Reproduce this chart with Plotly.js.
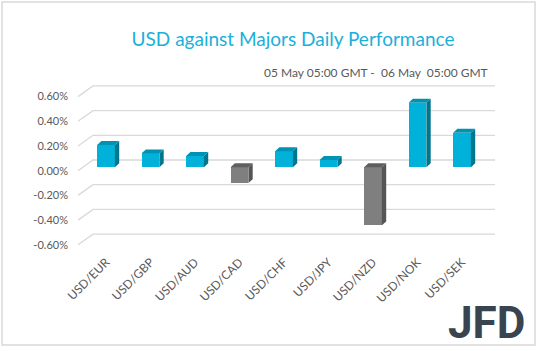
<!DOCTYPE html>
<html>
<head>
<meta charset="utf-8">
<script src="https://cdn.plot.ly/plotly-3.0.1.min.js"></script>
<style>html,body{margin:0;padding:0;background:#fff;}#chart{width:538px;height:351px;}</style>
</head>
<body>
<div id="chart"></div>
<script>
const categories = ['USD/EUR','USD/GBP','USD/AUD','USD/CAD','USD/CHF','USD/JPY','USD/NZD','USD/NOK','USD/SEK'];
const values = [0.18, 0.113, 0.091, -0.128, 0.13, 0.059, -0.47, 0.523, 0.28];
const yTicks = [-0.6, -0.4, -0.2, 0, 0.2, 0.4, 0.6];
const yTickLabels = ['-0.60%', '-0.40%', '-0.20%', '0.00%', '0.20%', '0.40%', '0.60%'];
const titleText = 'USD against Majors Daily Performance';
const subtitleText = '05 May 05:00 GMT -  06 May  05:00 GMT';

// pseudo-3D geometry (in axis units)
const barW = 0.40, depthX = 0.097, depthY = 0.032;
const frontOff = -0.0275, backOff = 0.059;
const xFront = -0.629, xBack = -0.292, xEnd = 8.742;

const pos = {front: '#00B2DA', top: '#0092B2', side: '#00758E'};
const neg = {front: '#7F7F7F', top: '#5E5E5E', side: '#555555'};

const idx = categories.map((c, i) => i);
const traces = [];

// front faces
traces.push({
  type: 'bar', x: idx, y: values, width: barW,
  marker: {color: values.map(v => v >= 0 ? pos.front : neg.front), line: {width: 0}},
  showlegend: false, hoverinfo: 'x+y'
});

// top and side faces
values.forEach((v, i) => {
  const c = v >= 0 ? pos : neg;
  const hi = Math.max(v, 0), lo = Math.min(v, 0);
  const l = i - barW / 2, r = i + barW / 2;
  traces.push({type: 'scatter', mode: 'lines', fill: 'toself', fillcolor: c.side,
    x: [r, r + depthX, r + depthX, r, r], y: [lo, lo + depthY, hi + depthY, hi, lo],
    line: {width: 0, color: c.side}, hoverinfo: 'skip', showlegend: false});
  traces.push({type: 'scatter', mode: 'lines', fill: 'toself', fillcolor: c.top,
    x: [l, l + depthX, r + depthX, r, l], y: [hi, hi + depthY, hi + depthY, hi, hi],
    line: {width: 0, color: c.top}, hoverinfo: 'skip', showlegend: false});
});

const L = 78, R = 495, T = 80, B = 250;
const px = x => (x - L) / (R - L);
const py = y => (B - y) / (B - T);

// gridlines (floor slant + back wall), drawn below the bars
const gridShapes = yTicks.map(t => ({
  type: 'path', xref: 'x', yref: 'y', layer: 'below',
  path: `M ${xFront},${t + frontOff} L ${xBack},${t + backOff} L ${xEnd},${t + backOff}`,
  line: {color: '#D9D9D9', width: 1.3}
}));

const layout = {
  width: 538, height: 351,
  margin: {l: L, r: 538 - R, t: T, b: 351 - B},
  paper_bgcolor: '#fff', plot_bgcolor: 'rgba(0,0,0,0)',
  font: {family: 'Lato, "Open Sans", sans-serif', color: '#595959', size: 11},
  title: {text: titleText, font: {family: 'Lato, sans-serif', size: 19, color: '#1AB0DA'},
    x: 293 / 538, xanchor: 'center', xref: 'container', y: 1 - 39 / 351, yanchor: 'middle', yref: 'container'},
  xaxis: {range: [xFront, xEnd], tickvals: idx, ticktext: categories, tickangle: -45,
    showgrid: false, zeroline: false, showline: false, ticks: '', ticklabelstandoff: 2,
    tickfont: {size: 12, color: '#595959'}},
  yaxis: {range: [(167.3 - B) / 123.5, (167.3 - T) / 123.5], tickvals: yTicks.map(t => t + frontOff),
    ticktext: yTickLabels, showgrid: false, zeroline: false, showline: false, ticks: '',
    ticklabelstandoff: 9, tickfont: {size: 11, color: '#595959'}},
  bargap: 0,
  annotations: [
    {text: subtitleText, xref: 'paper', yref: 'paper', x: px(490), y: py(73), xanchor: 'right', yanchor: 'middle',
      showarrow: false, font: {size: 12, color: '#595959'}},
    {text: '<b>JFD</b>', xref: 'paper', yref: 'paper', x: px(486), y: py(323), xanchor: 'center', yanchor: 'middle',
      showarrow: false, font: {family: 'Roboto, sans-serif', size: 44, color: '#3A4350'}}
  ],
  shapes: gridShapes.concat([
    {type: 'rect', xref: 'paper', yref: 'paper', x0: px(2), x1: px(535), y0: py(345), y1: py(2),
      line: {color: '#D9D9D9', width: 1.5}, fillcolor: 'rgba(0,0,0,0)'}
  ])
};

Plotly.newPlot('chart', traces, layout, {displayModeBar: false, staticPlot: true});
</script>
</body>
</html>
